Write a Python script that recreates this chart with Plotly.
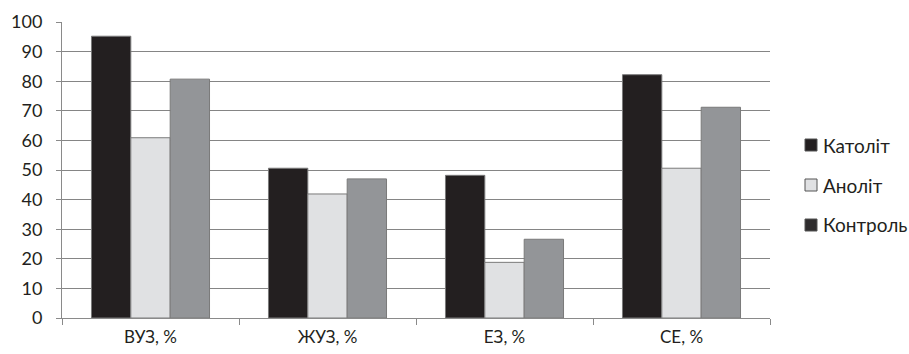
import plotly.graph_objects as go

categories = ["ВУЗ, %", "ЖУЗ, %", "ЕЗ, %", "СЕ, %"]
katolit = [95.2, 50.6, 48.2, 82.2]
anolit = [60.9, 41.9, 18.8, 50.6]
kontrol = [80.7, 47.0, 26.6, 71.2]

series_names = ["Католіт", "Аноліт", "Контроль"]
bar_colors = ["#231f20", "#e0e1e3", "#939598"]
legend_colors = ["#231f20", "#e0e1e3", "#2e2c2d"]

FONT = "Lato, 'Open Sans', sans-serif"
W, H = 909, 354
ML, MR, MT, MB = 62, 139, 22, 36
PW, PH = W - ML - MR, H - MT - MB


def px_to_paper(px, py):
    return (px - ML) / PW, (H - MB - py) / PH


fig = go.Figure()
for name, vals, col in zip(series_names, [katolit, anolit, kontrol], bar_colors):
    fig.add_trace(go.Bar(
        x=categories, y=vals, name=name,
        marker=dict(color=col, line=dict(color="#7a7a7a", width=1)),
        showlegend=False,
    ))

# legend: square swatch + label for each series, placed right of the plot
legend_rows = [145, 185, 225]
for name, col, row in zip(series_names, legend_colors, legend_rows):
    x0, y0 = px_to_paper(805, row + 6)
    x1, y1 = px_to_paper(817, row - 6)
    fig.add_shape(type="rect", xref="paper", yref="paper",
                  x0=x0, y0=y0, x1=x1, y1=y1,
                  fillcolor=col, line=dict(color="#555555", width=1))
    tx, ty = px_to_paper(821, row)
    fig.add_annotation(xref="paper", yref="paper", x=tx, y=ty,
                       text=name, showarrow=False, xanchor="left",
                       yanchor="middle", font=dict(size=19, color="#231f20"))

fig.update_layout(
    width=W, height=H,
    margin=dict(l=ML, r=MR, t=MT, b=MB),
    paper_bgcolor="white", plot_bgcolor="white",
    barmode="group", bargap=0.333, bargroupgap=0,
    showlegend=False,
    font=dict(family=FONT, size=16, color="#231f20"),
    xaxis=dict(showgrid=False, showline=True, linecolor="#8a8a8a", linewidth=1,
               ticks="outside", tickson="boundaries", ticklen=6,
               tickcolor="#8a8a8a", tickfont=dict(size=17),
               ticklabelstandoff=4, automargin=False),
    yaxis=dict(range=[0, 100], dtick=10, showgrid=True, gridcolor="#858585",
               gridwidth=1, showline=True, linecolor="#8a8a8a", linewidth=1,
               ticks="outside", ticklen=5, tickcolor="#8a8a8a",
               zeroline=False, tickfont=dict(size=18),
               ticklabelstandoff=10, automargin=False),
)

fig.write_html("out.html")
